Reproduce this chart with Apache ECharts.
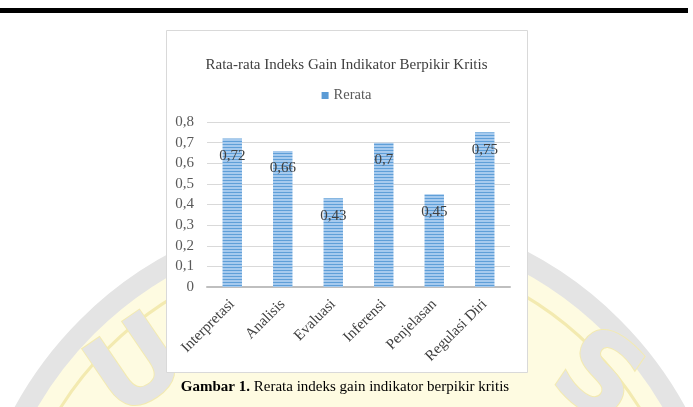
<!DOCTYPE html>
<html>
<head>
<meta charset="utf-8">
<script src="https://cdn.jsdelivr.net/npm/echarts@6/dist/echarts.min.js"></script>
<style>html,body{margin:0;padding:0;background:#fff}#c{width:693px;height:407px}</style>
</head>
<body>
<div id="c"></div>
<script>
const chartTitle = 'Rata-rata Indeks Gain Indikator Berpikir Kritis';
const seriesName = 'Rerata';
const categories = ['Interpretasi', 'Analisis', 'Evaluasi', 'Inferensi', 'Penjelasan', 'Regulasi Diri'];
const values = [0.72, 0.66, 0.43, 0.7, 0.45, 0.75];
const yMin = 0, yMax = 0.8, yStep = 0.1;
const captionBold = 'Gambar 1.';
const captionText = ' Rerata indeks gain indikator berpikir kritis';

// striped pattern for bars
const pc = document.createElement('canvas');
pc.width = 4; pc.height = 3;
const px = pc.getContext('2d');
px.fillStyle = '#a6caee'; px.fillRect(0, 0, 4, 3);
px.fillStyle = '#5f9fd8'; px.fillRect(0, 0, 4, 1);

const serif = '"Liberation Serif", "DejaVu Serif", serif';
const comma = v => String(+v.toFixed(2)).replace('.', ',');

const chart = echarts.init(document.getElementById('c'), null, {renderer: 'canvas'});
chart.setOption({
  animation: false,
  backgroundColor: '#ffffff',
  title: {
    text: chartTitle, left: 'center', top: 53,
    textStyle: {fontFamily: serif, fontSize: 15, fontWeight: 'normal', color: '#404040'}
  },
  legend: {
    data: [{name: seriesName, itemStyle: {color: '#5b9bd5'}}], left: 'center', top: 83,
    icon: 'rect', itemWidth: 7, itemHeight: 7, itemGap: 4,
    textStyle: {fontFamily: serif, fontSize: 14.5, color: '#595959'}
  },
  grid: {left: 207, right: 183, top: 122, bottom: 120, containLabel: false},
  xAxis: {
    type: 'category', data: categories,
    axisLine: {lineStyle: {color: '#bfbfbf', width: 2}},
    axisTick: {show: false},
    axisLabel: {rotate: 45, interval: 0, margin: 15, fontFamily: serif, fontSize: 15, color: '#404040'}
  },
  yAxis: {
    type: 'value', min: yMin, max: yMax, interval: yStep,
    axisLine: {show: false}, axisTick: {show: false},
    splitLine: {lineStyle: {color: '#d9d9d9', width: 1}},
    axisLabel: {margin: 13, fontFamily: serif, fontSize: 15, color: '#595959', formatter: v => comma(v)}
  },
  series: [{
    name: seriesName, type: 'bar', data: values, barWidth: '38.5%',
    itemStyle: {color: {image: pc, repeat: 'repeat'}},
    label: {
      show: true, position: 'insideTop', distance: 10,
      fontFamily: serif, fontSize: 15, color: '#404040',
      formatter: p => comma(p.value)
    }
  }],
  graphic: [
    {type: 'rect', z: -30, shape: {x: 0, y: 8, width: 688, height: 5}, style: {fill: '#000'}},
    {type: 'circle', z: -30, shape: {cx: 350, cy: 590, r: 372}, style: {fill: '#fefbe1', stroke: '#e4e4e4', lineWidth: 20}},
    {type: 'circle', z: -29, shape: {cx: 350, cy: 590, r: 342}, style: {fill: 'none', stroke: '#f3eab0', lineWidth: 3}},
    {type: 'text', z: -28, x: 140, y: 372, rotation: 0.6, style: {text: 'U', fontSize: 110, fontWeight: 'bold', fontFamily: '"DejaVu Sans", sans-serif', fill: '#e4e4e4', stroke: '#f3eab0', lineWidth: 2, textAlign: 'center', textVerticalAlign: 'middle'}},
    {type: 'text', z: -28, x: 595, y: 382, rotation: -0.6, style: {text: 'S', fontSize: 110, fontWeight: 'bold', fontFamily: '"DejaVu Sans", sans-serif', fill: '#e4e4e4', stroke: '#f3eab0', lineWidth: 2, textAlign: 'center', textVerticalAlign: 'middle'}},
    {type: 'rect', z: -20, shape: {x: 166.5, y: 30.5, width: 361, height: 342}, style: {fill: '#ffffff', stroke: '#d9d9d9', lineWidth: 1}},
    {type: 'text', z: 10, x: 345, y: 387, style: {
      text: '{b|' + captionBold + '}{r|' + captionText + '}',
      textAlign: 'center', textVerticalAlign: 'middle',
      rich: {
        b: {fontFamily: serif, fontSize: 15, fontWeight: 'bold', fill: '#000', color: '#000'},
        r: {fontFamily: serif, fontSize: 15, fill: '#000', color: '#000'}
      }
    }}
  ]
});
</script>
</body>
</html>
